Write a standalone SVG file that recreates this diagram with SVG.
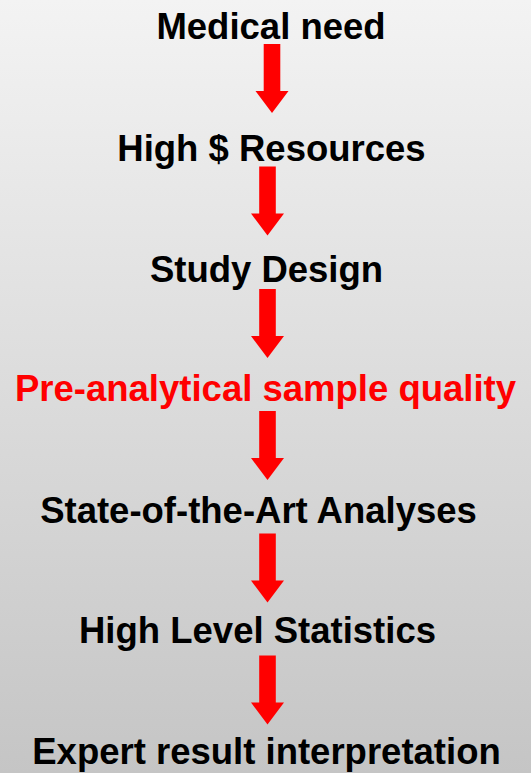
<svg xmlns="http://www.w3.org/2000/svg" width="531" height="773" viewBox="0 0 531 773">
<defs>
<linearGradient id="bg" x1="0" y1="0" x2="0" y2="1">
<stop offset="0" stop-color="#f3f3f3"/>
<stop offset="1" stop-color="#c5c5c5"/>
</linearGradient>
<style>
.t{font-family:"Liberation Sans",Arial,sans-serif;font-weight:bold;font-size:36.5px;text-anchor:middle;fill:#000}
.r{fill:#ff0000}
.a{fill:#ff0000}
</style>
<path id="arr" d="M-8.3,0 H8.3 V47 H16.5 L0,69 L-16.5,47 H-8.3 Z"/>
</defs>
<rect width="531" height="773" fill="url(#bg)"/>
<g id="connectors">
<use href="#arr" class="a" x="272" y="44"/>
<use href="#arr" class="a" x="267.5" y="166.5"/>
<use href="#arr" class="a" x="267.5" y="289"/>
<use href="#arr" class="a" x="267.5" y="411"/>
<use href="#arr" class="a" x="267.5" y="533.5"/>
<use href="#arr" class="a" x="267.5" y="655.5"/>
</g>
<g id="n1"><text class="t" x="271" y="38.5">Medical need</text></g>
<g id="n2"><text class="t" x="271.5" y="160.5">High $ Resources</text></g>
<g id="n3"><text class="t" x="266.5" y="281.5">Study Design</text></g>
<g id="n4"><text class="t r" x="265.5" y="401">Pre-analytical sample quality</text></g>
<g id="n5"><text class="t" x="258.5" y="522.5">State-of-the-Art Analyses</text></g>
<g id="n6"><text class="t" x="257.5" y="643">High Level Statistics</text></g>
<g id="n7"><text class="t" x="266.5" y="764">Expert result interpretation</text></g>
</svg>
